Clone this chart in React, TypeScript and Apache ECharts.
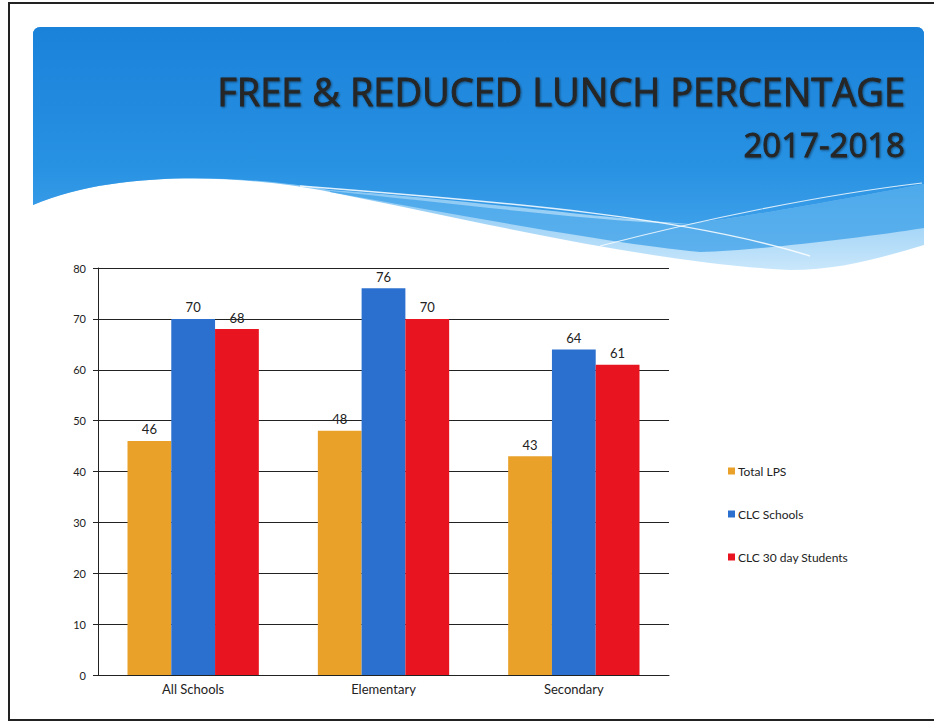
import React, { useEffect, useRef } from 'react';
import * as echarts from 'echarts';

const categories = ['All Schools', 'Elementary', 'Secondary'];
const seriesNames = ['Total LPS', 'CLC Schools', 'CLC 30 day Students'];
const totalLPS = [46, 48, 43];
const clcSchools = [70, 76, 64];
const clc30Day = [68, 70, 61];
const yMin = 0;
const yMax = 80;
const yInterval = 10;
const titleLine1 = 'FREE & REDUCED LUNCH PERCENTAGE';
const titleLine2 = '2017-2018';

const colors = ['#E9A12A', '#2C70CF', '#E8141F'];

const bannerLight =
  'M33,205 L33,35 Q33,27 41,27 L916,27 Q924,27 924,35 L924,245 C880,258 840,270 790,270 C650,263 480,222 330,192 C250,176 120,168 33,205 Z';
const bannerDark =
  'M33,205 L33,35 Q33,27 41,27 L916,27 Q924,27 924,35 L924,184 C860,196 760,215 689,224 C600,218 450,198 330,190 C250,176 120,168 33,205 Z';
const bannerMid =
  'M330,191 C450,203 600,222 689,224 C760,215 860,196 924,184 L924,228 C860,238 760,250 700,252 C600,242 460,215 330,192 Z';

echarts.graphic.registerShape('bannerLight', echarts.graphic.extendPath(bannerLight, {}));
echarts.graphic.registerShape('bannerDark', echarts.graphic.extendPath(bannerDark, {}));
echarts.graphic.registerShape('bannerMid', echarts.graphic.extendPath(bannerMid, {}));

export default function App() {
  const ref = useRef<HTMLDivElement>(null);
  useEffect(() => {
    document.body.style.margin = '0';
    if (!ref.current) return;
    const chart = echarts.init(ref.current, null, { renderer: 'svg' });
    const font = 'Lato, "Open Sans", sans-serif';
    const labelStyle = {
      show: true,
      position: 'top' as const,
      distance: 5,
      fontSize: 13,
      color: '#222',
      fontFamily: font,
    };
    const titleStyle = {
      fill: '#262626',
      stroke: '#262626',
      lineWidth: 0.8,
      textAlign: 'right',
      textVerticalAlign: 'middle',
      textShadowColor: 'rgba(0,0,0,0.45)',
      textShadowBlur: 2,
      textShadowOffsetX: 1,
      textShadowOffsetY: 1,
    };
    chart.setOption({
      animation: false,
      backgroundColor: '#ffffff',
      textStyle: { fontFamily: font },
      graphic: [
        {
          type: 'bannerLight',
          x: 0,
          y: 0,
          silent: true,
          style: {
            fill: new echarts.graphic.LinearGradient(0, 0, 0, 1, [
              { offset: 0, color: '#3f9ee8' },
              { offset: 0.6, color: '#79c0f2' },
              { offset: 1, color: '#c9e7fb' },
            ]),
          },
        },
        {
          type: 'bannerMid',
          x: 0,
          y: 0,
          silent: true,
          style: { fill: 'rgba(60,160,232,0.75)' },
        },
        {
          type: 'bannerDark',
          x: 0,
          y: 0,
          silent: true,
          style: {
            fill: new echarts.graphic.LinearGradient(0, 0, 0, 1, [
              { offset: 0, color: '#1b82da' },
              { offset: 0.7, color: '#2791e2' },
              { offset: 1, color: '#3c9fe9' },
            ]),
          },
        },
        {
          type: 'bezierCurve',
          silent: true,
          shape: { x1: 300, y1: 186, x2: 810, y2: 256, cpx1: 520, cpy1: 203, cpx2: 690, cpy2: 218 },
          style: { stroke: 'rgba(255,255,255,0.85)', lineWidth: 1.5, fill: null },
        },
        {
          type: 'bezierCurve',
          silent: true,
          shape: { x1: 922, y1: 183, x2: 600, y2: 246, cpx1: 820, cpy1: 195, cpx2: 700, cpy2: 220 },
          style: { stroke: 'rgba(255,255,255,0.8)', lineWidth: 1.2, fill: null },
        },
        {
          type: 'text',
          silent: true,
          x: 905,
          y: 91,
          style: { ...titleStyle, text: titleLine1, font: '38px "Open Sans", sans-serif' },
        },
        {
          type: 'text',
          silent: true,
          x: 905,
          y: 144,
          style: { ...titleStyle, text: titleLine2, font: '33px "Open Sans", sans-serif' },
        },
        {
          type: 'polyline',
          silent: true,
          shape: { points: [[940, 3], [9, 3], [9, 720], [940, 720]] },
          style: { stroke: '#222', lineWidth: 2, fill: null },
        },
      ],
      grid: { left: 98, right: 265, top: 268, bottom: 48, containLabel: false },
      legend: {
        orient: 'vertical',
        left: 723,
        top: 460,
        itemGap: 31,
        itemWidth: 7,
        itemHeight: 7,
        icon: 'rect',
        data: seriesNames,
        textStyle: { fontSize: 12, color: '#222', fontFamily: font, padding: [0, 0, 0, -2] },
      },
      xAxis: {
        type: 'category',
        data: categories,
        axisLine: { show: true, lineStyle: { color: '#222', width: 1 } },
        axisTick: { show: false },
        axisLabel: { fontSize: 13, color: '#222', margin: 7, fontFamily: font },
      },
      yAxis: {
        type: 'value',
        min: yMin,
        max: yMax,
        interval: yInterval,
        axisLine: { show: true, lineStyle: { color: '#222', width: 1 } },
        axisTick: { show: true, length: 5, lineStyle: { color: '#222' } },
        axisLabel: { fontSize: 11, color: '#222', margin: 12, fontFamily: font },
        splitLine: { show: true, lineStyle: { color: '#222', width: 1 } },
      },
      series: [
        {
          name: seriesNames[0],
          type: 'bar',
          data: totalLPS,
          itemStyle: { color: colors[0] },
          barGap: '0%',
          barCategoryGap: '31%',
          label: labelStyle,
        },
        {
          name: seriesNames[1],
          type: 'bar',
          data: clcSchools,
          itemStyle: { color: colors[1] },
          barGap: '0%',
          barCategoryGap: '31%',
          label: labelStyle,
        },
        {
          name: seriesNames[2],
          type: 'bar',
          data: clc30Day,
          itemStyle: { color: colors[2] },
          barGap: '0%',
          barCategoryGap: '31%',
          label: labelStyle,
        },
      ],
    });
    return () => chart.dispose();
  }, []);
  return <div ref={ref} style={{ width: 934, height: 723 }} />;
}
